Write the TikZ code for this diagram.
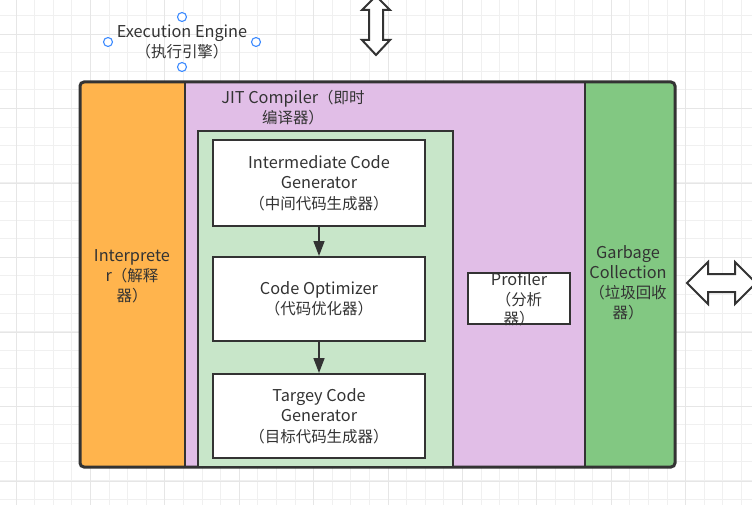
\documentclass[tikz,border=0pt]{standalone}
\usepackage{fontspec}
\setmainfont{Noto Sans CJK SC}
\newfontfamily\zh{Noto Sans CJK SC}[Scale=0.95]
\usetikzlibrary{arrows.meta}
\definecolor{ink}{HTML}{333333}
\definecolor{txt}{HTML}{333333}
\definecolor{orng}{HTML}{FFB44D}
\definecolor{purp}{HTML}{E1BEE7}
\definecolor{grn}{HTML}{82C882}
\definecolor{lgrn}{HTML}{C8E6C9}
\definecolor{gridminor}{HTML}{F0F0F0}
\definecolor{gridmajor}{HTML}{E6E6E6}
\definecolor{handle}{HTML}{3D8BFF}
\tikzset{
  lbl/.style={text=txt, align=center, inner sep=0pt, font=\fontsize{16.3}{20}\selectfont},
  col/.style={draw=ink, line width=2pt, inner sep=0pt},
  whitebox/.style={draw=ink, line width=2pt, fill=white, inner sep=0pt, text=txt, align=center, font=\fontsize{16.3}{20.5}\selectfont},
  flow/.style={draw=ink, line width=1.6pt, -{Triangle[length=15pt,width=11pt]}},
  dblarrow/.style={draw=ink, line width=2pt, fill=white, line join=miter},
  hdl/.style={circle, draw=handle, line width=1.1pt, fill=white, minimum size=9pt, inner sep=0pt},
}
\begin{document}
\begin{tikzpicture}[x=1pt,y=-1pt]
\useasboundingbox (0,0) rectangle (752,505);
\fill[white] (0,0) rectangle (752,505);
% grid
\foreach \i in {0,...,40} {
  \draw[gridminor, line width=1pt] ({16+18.6*\i},0) -- ({16+18.6*\i},505);
}
\foreach \j in {0,...,27} {
  \draw[gridminor, line width=1pt] (0,{-3.1+18.6*\j}) -- (752,{-3.1+18.6*\j});
}
\foreach \i in {0,...,10} {
  \draw[gridmajor, line width=1pt] ({16+74.4*\i},0) -- ({16+74.4*\i},505);
}
\foreach \j in {0,...,6} {
  \draw[gridmajor, line width=1pt] (0,{34.6+74.4*\j}) -- (752,{34.6+74.4*\j});
}

% execution engine label
\node[lbl] (ee) at (182,42) {Execution Engine\\{\zh（执行引擎）}};
\node[hdl] (h1) at (182,17) {};
\node[hdl] (h2) at (108,42) {};
\node[hdl] (h3) at (256,42) {};
\node[hdl] (h4) at (182,67) {};

% vertical double arrow
\draw[dblarrow] (376,-4) -- (390,10) -- (383,10) -- (383,40) -- (390,40) -- (376,55)
  -- (362,40) -- (369,40) -- (369,10) -- (362,10) -- cycle;
% horizontal double arrow
\draw[dblarrow] (687,283) -- (708,262) -- (708,274) -- (735,274) -- (735,262) -- (756,283)
  -- (735,304) -- (735,292) -- (708,292) -- (708,304) -- cycle;

% columns
\begin{scope}
\clip[rounded corners=4pt] (80,82) rectangle (675,467);
\node[col, fill=orng, minimum width=105pt, minimum height=385pt] (interp) at (132.5,274.5) {};
\node[col, fill=purp, minimum width=400pt, minimum height=385pt] (jit) at (385,274.5) {};
\node[col, fill=grn, minimum width=90pt, minimum height=385pt] (gc) at (630,274.5) {};
\end{scope}
\draw[ink, line width=3pt, rounded corners=4pt] (80,82) rectangle (675,467);

\node[lbl] (interptxt) at (132,276) {Interprete\\r{\zh（解释}\\{\zh 器）}};
\node[lbl] (gctxt) at (628,283) {Garbage\\Collection\\{\zh（垃圾回收}\\{\zh 器）}};
\node[lbl] (jittxt) at (293,108) {JIT Compiler{\zh（即时}\\{\zh 编译器）}};

% inner green box
\node[draw=ink, line width=2pt, fill=lgrn, minimum width=255pt, minimum height=336pt, inner sep=0pt] (inner) at (325.5,299) {};

\node[whitebox, minimum width=212pt, minimum height=86pt] (icg) at (319,183) {Intermediate Code\\Generator\\{\zh（中间代码生成器）}};
\node[whitebox, minimum width=212pt, minimum height=84pt] (opt) at (319,299) {Code Optimizer\\{\zh（代码优化器）}};
\node[whitebox, minimum width=212pt, minimum height=84pt] (tcg) at (319,416) {Targey Code\\Generator\\{\zh（目标代码生成器）}};

\draw[flow] (icg.south) -- (opt.north);
\draw[flow] (opt.south) -- (tcg.north);

% profiler
\node[draw=ink, line width=2pt, fill=white, minimum width=102pt, minimum height=51pt, inner sep=0pt] (prof) at (519,298.5) {};
\node[lbl, font=\fontsize{16.3}{19.5}\selectfont] (proftxt) at (519,299.5) {Profiler\\{\zh（分析}\\{\zh 器）}};
\end{tikzpicture}
\end{document}
